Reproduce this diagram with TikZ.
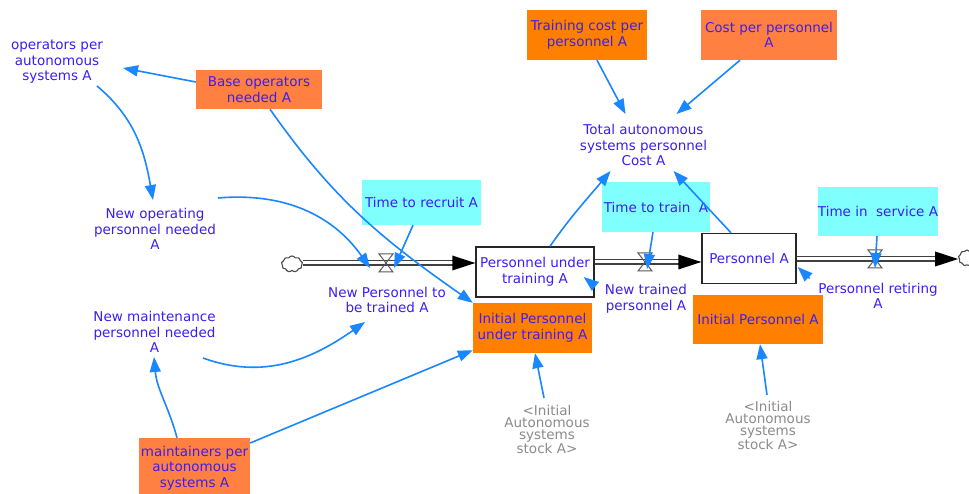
\documentclass[tikz,border=0pt]{standalone}
\usepackage{fontspec}
\setmainfont{DejaVu Sans}
\usetikzlibrary{arrows.meta,shapes.symbols,calc}

\definecolor{vtext}{RGB}{60,30,240}
\definecolor{vlink}{RGB}{25,135,255}
\definecolor{vorange}{RGB}{255,128,0}
\definecolor{vcoral}{RGB}{255,128,64}
\definecolor{vcyan}{RGB}{128,255,255}
\definecolor{vgrey}{RGB}{140,140,140}

\begin{document}
\begin{tikzpicture}[x=1pt,y=1pt,
  lbl/.style={text=vtext, align=center, inner sep=0pt, font=\fontsize{13.5}{15.5}\selectfont},
  cbox/.style={lbl, draw=none},
  stock/.style={lbl, draw=black!85, line width=1.4pt, fill=white},
  shadowvar/.style={text=vgrey, align=center, inner sep=0pt, font=\fontsize{13.5}{12}\selectfont},
  link/.style={draw=vlink, line width=1.6pt, -{Triangle[length=15pt,width=11pt]}},
  pipe/.style={draw=black!75, line width=1.4pt, double=white, double distance=3pt},
  pipetip/.style={fill=black},
  valve/.style={draw=black!65, line width=1pt},
  src/.style={cloud, cloud puffs=9, cloud puff arc=120, draw=black!70, line width=1.1pt, inner sep=0pt, fill=white}
]
\path[use as bounding box, fill=white] (0,0) rectangle (969,-494);

% ---------- stocks, flows and sources ----------
\node[stock, minimum width=118, minimum height=50] (put) at (535,-272) {Personnel under\\training A};
\node[stock, minimum width=94, minimum height=50] (pa) at (749,-258.5) {Personnel A};
\node[src, minimum width=21, minimum height=16] (cl1) at (292,-264) {};
\node[src, minimum width=17, minimum height=16] (cl2) at (967,-258) {};
\coordinate (v1) at (386,-263);
\coordinate (v2) at (645,-262);
\coordinate (v3) at (875,-259);

% pipes
\draw[pipe] (cl1.east |- v1) -- ($(put.west |- v1)+(-20,0)$);
\fill[pipetip] (put.west |- v1) -- ++(-23,7.5) -- ++(0,-15) -- cycle;
\draw[pipe] (put.east |- v2) -- ($(pa.west |- v2)+(-20,0)$);
\fill[pipetip] (pa.west |- v2) -- ++(-23,7.5) -- ++(0,-15) -- cycle;
\draw[pipe] (pa.east |- v3) -- ($(cl2.west |- v3)+(-20,0)$);
\fill[pipetip] (cl2.west |- v3) -- ++(-23,7.5) -- ++(0,-15) -- cycle;

% valves
\foreach \v in {v1,v2,v3}
  \draw[valve] ($(\v)+(-7,9)$) -- ++(14,0) -- ++(-14,-18) -- ++(14,0) -- cycle;

% flow names
\node[lbl] (nptt) at (387,-300) {New Personnel to\\be trained A};
\node[lbl] (ntp) at (646,-299) {New trained\\personnel A};
\node[lbl] (pr) at (878,-296) {Personnel retiring\\A};

% ---------- constants ----------
\node[cbox, fill=vcoral, minimum width=126, minimum height=39] (bon) at (259,-89.5) {Base operators\\needed A};
\node[cbox, fill=vorange, minimum width=120, minimum height=50] (tcp) at (587,-35) {Training cost per\\personnel A};
\node[cbox, fill=vcoral, minimum width=136, minimum height=50] (cpp) at (769,-35) {Cost per personnel\\A};
\node[cbox, fill=vcyan, minimum width=119, minimum height=45] (ttr) at (421.5,-202.5) {Time to recruit A};
\node[cbox, fill=vcyan, minimum width=108, minimum height=50] (ttt) at (656,-207) {Time to train~ A};
\node[cbox, fill=vcyan, minimum width=120, minimum height=49] (tis) at (878,-211.5) {Time in~ service A};
\node[cbox, fill=vorange, minimum width=119, minimum height=50] (iput) at (532.5,-328) {Initial Personnel\\under training A};
\node[cbox, fill=vorange, minimum width=130, minimum height=49] (ipa) at (758,-319.5) {Initial Personnel A};
\node[cbox, fill=vcoral, minimum width=111, minimum height=60] (mpa) at (194.5,-468) {maintainers per\\autonomous\\systems A};

% ---------- auxiliaries ----------
\node[lbl] (opa) at (57,-62) {operators per\\autonomous\\systems A};
\node[lbl] (tac) at (643.5,-145) {Total autonomous\\systems personnel\\Cost A};
\node[lbl] (nop) at (155,-229) {New operating\\personnel needed\\A};
\node[lbl] (nmp) at (154.5,-332) {New maintenance\\personnel needed\\A};
\node[shadowvar] (ias1) at (547,-429) {<Initial\\Autonomous\\systems\\stock A>};
\node[shadowvar] (ias2) at (768,-425) {<Initial\\Autonomous\\systems\\stock A>};

% ---------- causal links ----------
\draw[link] ($(bon.west)+(0,7.5)$) -- ($(opa)+(66,-6)$);
\draw[link] ($(opa)+(40,-24)$) to[out=-40, in=100] ($(nop)+(-2,29)$);
\draw[link] ($(bon.south)+(11,0)$) to[out=-55, in=145] (iput.north west);
\draw[link] ($(nop)+(63,31)$) to[out=5, in=125] ($(v1)+(-16,-5)$);
\draw[link] ($(ttr.south)+(-8.5,0)$) -- ($(v1)+(8,-5)$);
\draw[link] ($(nmp)+(48.5,-26)$) to[out=-20, in=-145] ($(nptt)+(-22,-22)$);
\draw[link] ($(mpa.north)+(-17.5,0)$) to[out=105, in=-85] ($(nmp)+(-0.5,-25)$);
\draw[link] ($(mpa.east)+(0,25)$) -- ($(iput.south west)+(0,3)$);
\draw[link] ($(ias1)+(-3,31)$) -- ($(iput.south)+(2.5,0)$);
\draw[link] ($(ias2)+(-1,30)$) -- ($(ipa.south)+(2,0)$);
\draw[link] ($(put.north)+(15,0)$) to[out=55, in=-130] ($(tac)+(-33,-26)$);
\draw[link] ($(pa.north)+(-18,0)$) -- ($(tac)+(30,-26)$);
\draw[link] ($(tcp.south)+(10,0)$) -- ($(tac)+(-18,31)$);
\draw[link] ($(cpp.south)+(-29,0)$) -- ($(tac)+(33,31)$);
\draw[link] ($(ttt.south)+(-3,0)$) -- ($(v2)+(2,-7)$);
\draw[link] ($(tis.south)+(-1,0)$) -- ($(v3)+(0,-9)$);
\draw[link] ($(put.east)+(-1,-13)$) -- ($(put.east)+(-11,-5)$);
\draw[link] ($(pa.east)+(13,-20)$) -- ($(pa.east)+(1,-8.5)$);
\end{tikzpicture}
\end{document}
